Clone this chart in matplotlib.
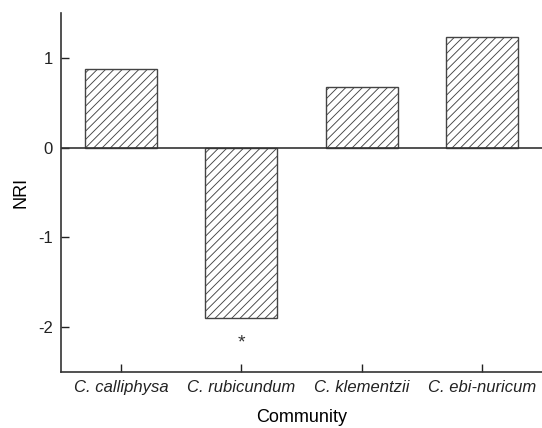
import matplotlib
matplotlib.use("Agg")
import matplotlib.pyplot as plt

plt.rcParams['font.family'] = ['Liberation Sans', 'DejaVu Sans']
plt.rcParams['hatch.color'] = '#999999'
plt.rcParams['hatch.linewidth'] = 0.65

communities = ['C. calliphysa', 'C. rubicundum', 'C. klementzii', 'C. ebi-nuricum']
nri = [0.88, -1.9, 0.67, 1.23]
signif = ['', '*', '', '']

fig = plt.figure(figsize=(5.42, 4.28), dpi=100)
ax = fig.add_axes([61/542, 1-372/428, 481/542, 359/428])

x = range(len(communities))
ax.bar(x, nri, width=0.6, color='white', edgecolor='#444444', linewidth=1.0, hatch='////')
ax.axhline(0, color='#333333', linewidth=1.2)

for i, s in enumerate(signif):
    if s:
        ax.text(i, nri[i] - 0.28, s, ha='center', va='center', fontsize=14, color='#333333')

ax.set_xlim(-0.5, 3.5)
ax.set_ylim(-2.5, 1.5)
ax.set_yticks([-2, -1, 0, 1])
ax.set_yticklabels(['-2', '-1', '0', '1'])
ax.set_xticks(list(x))
ax.set_xticklabels(communities, fontstyle='italic')
ax.tick_params(direction='in', length=6, width=1, labelsize=12, colors='#222222', pad=6)
for side in ['top', 'right']:
    ax.spines[side].set_visible(False)
for side in ['left', 'bottom']:
    ax.spines[side].set_linewidth(1.2)
    ax.spines[side].set_color('#333333')

ax.set_xlabel('Community', fontsize=13, labelpad=10)
ax.set_ylabel('NRI', fontsize=13, labelpad=6)

fig.savefig('out.png', dpi=100)
